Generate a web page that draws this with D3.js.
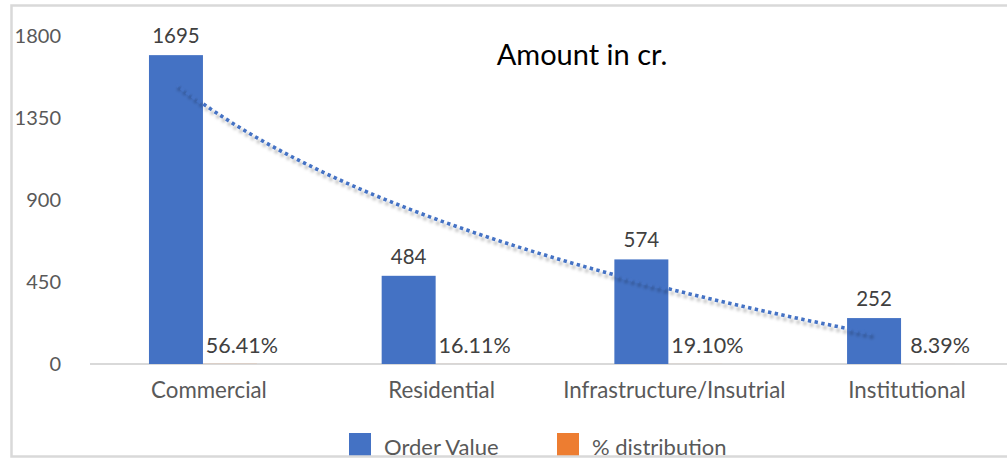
<!DOCTYPE html>
<html lang="en">
<head>
<meta charset="utf-8">
<title>Amount in cr.</title>
<script src="https://d3js.org/d3.v7.min.js"></script>
<style>
  body { margin: 0; background: #fff; }
  text { font-family: Lato, "Open Sans", sans-serif; }
</style>
</head>
<body>
<div id="chart"></div>
<script>
// chart data
const categories = ["Commercial", "Residential", "Infrastructure/Insutrial", "Institutional"];
const orderValue = [1695, 484, 574, 252];
const distribution = [0.5641, 0.1611, 0.1910, 0.0839];
const distLabels = ["56.41%", "16.11%", "19.10%", "8.39%"];
const yTicks = [0, 450, 900, 1350, 1800];
const seriesNames = ["Order Value", "% distribution"];
const seriesColors = ["#4472C4", "#ED7D31"];

const width = 1007, height = 459;

const svg = d3.select("#chart").append("svg")
  .attr("width", width)
  .attr("height", height);

svg.append("defs").append("clipPath").attr("id", "frame")
  .append("rect").attr("x", 12).attr("y", 5).attr("width", 1010).attr("height", 451);

svg.select("defs").append("filter").attr("id", "shadow")
  .attr("x", "-5%").attr("y", "-5%").attr("width", "110%").attr("height", "120%")
  .append("feDropShadow")
    .attr("dx", 2).attr("dy", 4).attr("stdDeviation", 1.4)
    .attr("flood-color", "#000").attr("flood-opacity", 0.28);

const g = svg.append("g").attr("clip-path", "url(#frame)");

// scales
const x = d3.scaleBand()
  .domain(categories)
  .range([86.6, 1017.4])
  .paddingInner(0.536)
  .paddingOuter(0.268);
const barW = x.bandwidth() / 2;

const y = d3.scaleLinear().domain([0, 1800]).range([364, 36]);

// y axis labels
g.selectAll(".ytick").data(yTicks).join("text")
  .attr("x", 61)
  .attr("y", d => y(d))
  .attr("dy", "0.36em")
  .attr("text-anchor", "end")
  .attr("fill", "#595959")
  .style("font-size", "20px")
  .text(d => d);

// baseline
g.append("line")
  .attr("x1", 90).attr("x2", 1020)
  .attr("y1", y(0)).attr("y2", y(0))
  .attr("stroke", "#d9d9d9").attr("stroke-width", 2);

// bars: order value
g.selectAll(".bar").data(orderValue).join("rect")
  .attr("x", (d, i) => x(categories[i]))
  .attr("y", d => y(d))
  .attr("width", barW)
  .attr("height", d => y(0) - y(d))
  .attr("fill", seriesColors[0]);

// bars: % distribution (tiny on this scale)
g.selectAll(".bar2").data(distribution).join("rect")
  .attr("x", (d, i) => x(categories[i]) + barW)
  .attr("y", d => y(d))
  .attr("width", barW)
  .attr("height", d => y(0) - y(d))
  .attr("fill", seriesColors[1]);

// logarithmic trendline on order value
const lx = orderValue.map((d, i) => Math.log(i + 1));
const mx = d3.mean(lx), my = d3.mean(orderValue);
const b = d3.sum(lx, (v, i) => (v - mx) * (orderValue[i] - my)) / d3.sum(lx, v => (v - mx) * (v - mx));
const a = my - b * mx;
const xi = d3.scaleLinear()
  .domain([1, categories.length])
  .range([x(categories[0]) + barW / 2, x(categories[categories.length - 1]) + barW / 2]);
const trend = d3.range(1, categories.length + 0.001, 0.05).map(t => [xi(t), y(a + b * Math.log(t))]);

g.append("path")
  .datum(trend)
  .attr("d", d3.line())
  .attr("fill", "none")
  .attr("stroke", seriesColors[0])
  .attr("stroke-width", 3.6)
  .attr("stroke-dasharray", "3.4 3.4")
  .attr("filter", "url(#shadow)");

// value labels
g.selectAll(".vlab").data(orderValue).join("text")
  .attr("x", (d, i) => x(categories[i]) + barW / 2)
  .attr("y", d => y(d) - 12)
  .attr("text-anchor", "middle")
  .attr("fill", "#404040")
  .style("font-size", "20.5px")
  .text(d => d);

// distribution labels
g.selectAll(".plab").data(distribution).join("text")
  .attr("x", (d, i) => x(categories[i]) + barW * 1.5 + 12)
  .attr("y", d => y(d) - 11)
  .attr("text-anchor", "middle")
  .attr("fill", "#404040")
  .style("font-size", "21.5px")
  .text((d, i) => distLabels[i]);

// category labels
g.selectAll(".xlab").data(categories).join("text")
  .attr("x", d => x(d) + barW + 6)
  .attr("y", 398)
  .attr("text-anchor", "middle")
  .attr("fill", "#595959")
  .style("font-size", "22.3px")
  .text(d => d);

// title
g.append("text")
  .attr("x", 582)
  .attr("y", 65)
  .attr("text-anchor", "middle")
  .attr("fill", "#000")
  .style("font-size", "29px")
  .text("Amount in cr.");

// legend
const legendX = [349, 557];
const leg = g.selectAll(".leg").data(seriesNames).join("g")
  .attr("transform", (d, i) => `translate(${legendX[i]},433)`);
leg.append("rect")
  .attr("width", 22).attr("height", 24)
  .attr("fill", (d, i) => seriesColors[i]);
leg.append("text")
  .attr("x", 35).attr("y", 22)
  .attr("fill", "#595959")
  .style("font-size", "22px")
  .text(d => d);

// chart frame
svg.append("path")
  .attr("d", "M1020,5.5H11.5V456.5H1020")
  .attr("fill", "none")
  .attr("stroke", "#d9d9d9")
  .attr("stroke-width", 2.5);
</script>
</body>
</html>
